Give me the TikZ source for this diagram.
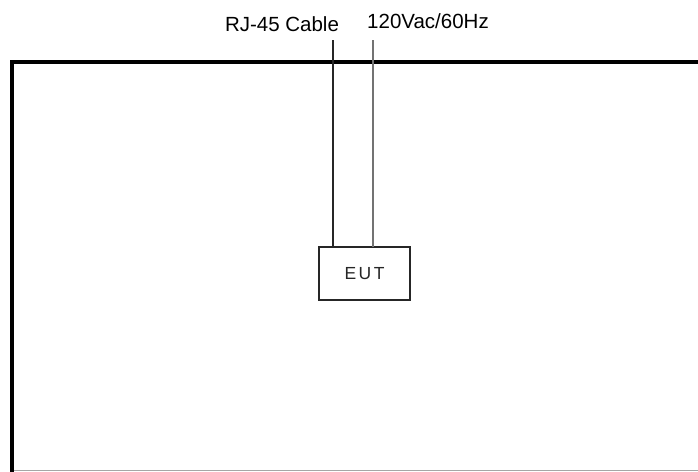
\documentclass[tikz,border=0pt]{standalone}
\usepackage{fontspec}
\setmainfont{Liberation Sans}
\begin{document}
\begin{tikzpicture}[x=1pt,y=-1pt,
  frame/.style={line width=3.6pt,black},
  cable/.style={line width=1.6pt,black!85},
  power/.style={line width=2pt,black!55},
  eutbox/.style={draw,line width=1.6pt,black!85,minimum width=91pt,minimum height=53pt,inner sep=0pt,font=\fontsize{17.5}{19}\selectfont},
  lbl/.style={font=\fontsize{20.5}{23}\selectfont,inner sep=0pt,anchor=base}]
\useasboundingbox (0,0) rectangle (698,471);
\fill[white] (0,0) rectangle (698,471);
% frame
\coordinate (fbl) at (12,472);
\coordinate (ftl) at (12,62);
\coordinate (ftr) at (700,62);
\draw[frame,line join=miter] (fbl) -- (ftl) -- (ftr);
\coordinate (bl) at (14,470);
\coordinate (br) at (698,470);
\draw[line width=0.8pt,black!35] (bl) -- (br);
% EUT
\node[eutbox] (eut) at (364.5,273.5) {E\kern2.5pt U\kern2.5pt T};
% cables
\coordinate (rjtop) at (333,40);
\coordinate (rjbot) at (333,247);
\coordinate (pwtop) at (373,40);
\coordinate (pwbot) at (373,247);
\draw[cable] (rjtop) -- (rjbot);
\draw[power] (pwtop) -- (pwbot);
% labels
\node[lbl] (rjl) at (282,31.5) {RJ-45 Cable};
\node[lbl] (pwl) at (428,28) {120Vac/60Hz};
\end{tikzpicture}
\end{document}
